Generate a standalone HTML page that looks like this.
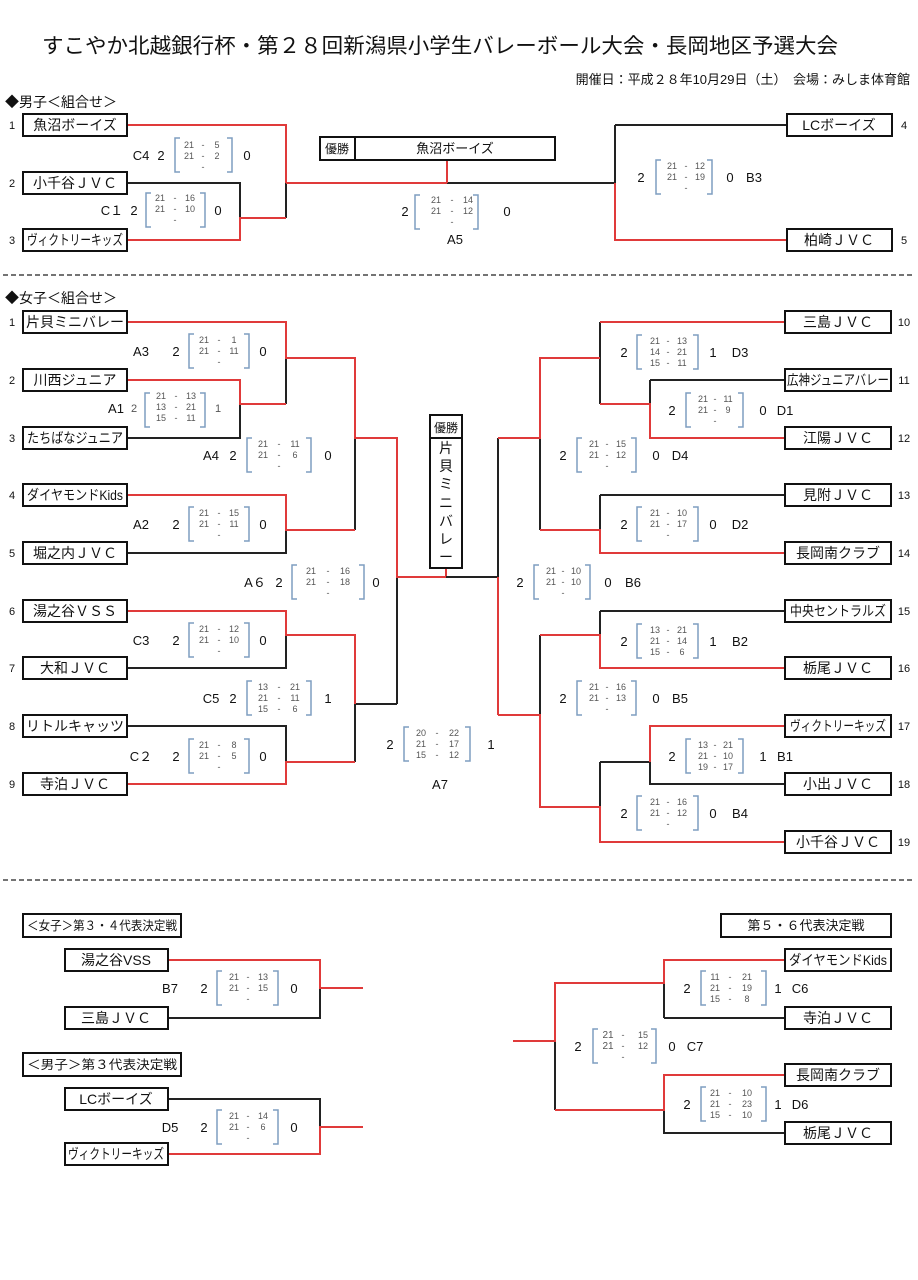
<!DOCTYPE html>
<html><head><meta charset="utf-8"><style>
html,body{margin:0;padding:0;background:#fff}
svg{display:block}
text{font-family:"Liberation Sans","Noto Sans CJK JP",sans-serif;fill:#111}
.t{font-size:14px;text-anchor:middle}
.n{font-size:11px;text-anchor:middle}
.l{font-size:13px;text-anchor:middle}
.s{font-size:9px;fill:#555;text-anchor:middle}
.bx{fill:#fff;stroke:#111;stroke-width:2}
.k{stroke:#222;stroke-width:2;fill:none}
.r{stroke:#e03a3a;stroke-width:2;fill:none}
.br{stroke:#7f9dc0;stroke-width:1.5;fill:none}
</style></head><body>
<svg width="918" height="1280" viewBox="0 0 918 1280" xmlns="http://www.w3.org/2000/svg">
<text x="440" y="53" style="font-size:21px;text-anchor:middle" textLength="796" lengthAdjust="spacingAndGlyphs">すこやか北越銀行杯・第２８回新潟県小学生バレーボール大会・長岡地区予選大会</text>
<text x="910" y="84" style="font-size:13px;text-anchor:end">開催日：平成２８年10月29日（土）　会場：みしま体育館</text>
<text x="5" y="107" style="font-size:14px">◆男子＜組合せ＞</text>
<text x="5" y="303" style="font-size:14px">◆女子＜組合せ＞</text>
<line x1="3" y1="275" x2="915" y2="275" stroke="#222" stroke-width="1.2" stroke-dasharray="5 3"/>
<line x1="3" y1="880" x2="915" y2="880" stroke="#222" stroke-width="1.2" stroke-dasharray="5 3"/>

<!-- MEN lines -->
<path class="k" d="M127 183H240V218M286 183V218M447 183H615M615 125H787M615 125V183"/>
<path class="r" d="M127 125H286V183M286 183H447M447 160V183M127 240H240V218H286M615 183V240H787"/>
<!-- WOMEN left -->
<path class="k" d="M127 438H240V404M286 358V404M127 553H286V530M355 438V530M127 668H286V635M127 726H286V762M355 704V762M355 704H397M397 577V704"/>
<path class="r" d="M127 322H286V358H355V438H397V577H446M446 568V577M127 380H240V404H286M127 495H286V530H355M127 611H286V635H355V704M127 784H286V762H355"/>
<!-- WOMEN right -->
<path class="k" d="M446 577H498M498 438V577M600 322V404M650 380V404M650 380H785M540 438V530M600 495V530M600 495H785M600 611V635M600 611H785M540 635V715M600 762V807M600 762H650M650 762V784H785"/>
<path class="r" d="M498 577V715M498 438H540V358H600M600 322H785M600 404H650V438H785M540 530H600V553H785M498 715H540V807H600V842H785M540 635H600V668H785M650 762V726H785"/>
<!-- bottom -->
<path class="k" d="M168 1018H320V988M168 1099H320V1127M664 1018V983M664 1110V1133H785M555 1041V1110"/>
<path class="r" d="M168 960H320V988H363M168 1154H320V1127H363M785 960H664V983H555V1041H513M555 1110H664V1075H785"/>
<path class="k" d="M664 1018H785"/>

<!-- MEN boxes -->
<rect class="bx" x="23" y="114" width="104" height="22"/><text class="t" x="75" y="130">魚沼ボーイズ</text>
<rect class="bx" x="23" y="172" width="104" height="22"/><text class="t" x="75" y="188">小千谷ＪＶＣ</text>
<rect class="bx" x="23" y="229" width="104" height="22"/><text class="t" x="75" y="245" textLength="96" lengthAdjust="spacingAndGlyphs">ヴィクトリーキッズ</text>
<text class="n" x="12" y="129">1</text><text class="n" x="12" y="187">2</text><text class="n" x="12" y="244">3</text>
<rect class="bx" x="787" y="114" width="105" height="22"/><text class="t" x="839" y="130">LCボーイズ</text>
<rect class="bx" x="787" y="229" width="105" height="22"/><text class="t" x="839" y="245">柏崎ＪＶＣ</text>
<text class="n" x="904" y="129">4</text><text class="n" x="904" y="244">5</text>
<rect class="bx" x="320" y="137" width="235" height="23"/><line x1="355" y1="137" x2="355" y2="160" stroke="#111" stroke-width="2"/>
<text x="337" y="153" style="font-size:12px;text-anchor:middle">優勝</text><text class="t" x="455" y="153" style="font-size:13px">魚沼ボーイズ</text>

<!-- WOMEN left boxes -->
<g>
<rect class="bx" x="23" y="311" width="104" height="22"/><text class="t" x="75" y="327">片貝ミニバレー</text>
<rect class="bx" x="23" y="369" width="104" height="22"/><text class="t" x="75" y="385">川西ジュニア</text>
<rect class="bx" x="23" y="427" width="104" height="22"/><text class="t" x="75" y="443" textLength="96" lengthAdjust="spacingAndGlyphs">たちばなジュニア</text>
<rect class="bx" x="23" y="484" width="104" height="22"/><text class="t" x="75" y="500" textLength="96" lengthAdjust="spacingAndGlyphs">ダイヤモンドKids</text>
<rect class="bx" x="23" y="542" width="104" height="22"/><text class="t" x="75" y="558">堀之内ＪＶＣ</text>
<rect class="bx" x="23" y="600" width="104" height="22"/><text class="t" x="75" y="616">湯之谷ＶＳＳ</text>
<rect class="bx" x="23" y="657" width="104" height="22"/><text class="t" x="75" y="673">大和ＪＶＣ</text>
<rect class="bx" x="23" y="715" width="104" height="22"/><text class="t" x="75" y="731">リトルキャッツ</text>
<rect class="bx" x="23" y="773" width="104" height="22"/><text class="t" x="75" y="789">寺泊ＪＶＣ</text>
<text class="n" x="12" y="326">1</text><text class="n" x="12" y="384">2</text><text class="n" x="12" y="442">3</text><text class="n" x="12" y="499">4</text><text class="n" x="12" y="557">5</text><text class="n" x="12" y="615">6</text><text class="n" x="12" y="672">7</text><text class="n" x="12" y="730">8</text><text class="n" x="12" y="788">9</text>
</g>
<!-- WOMEN right boxes -->
<g>
<rect class="bx" x="785" y="311" width="106" height="22"/><text class="t" x="838" y="327">三島ＪＶＣ</text>
<rect class="bx" x="785" y="369" width="106" height="22"/><text class="t" x="838" y="385" textLength="102" lengthAdjust="spacingAndGlyphs">広神ジュニアバレー</text>
<rect class="bx" x="785" y="427" width="106" height="22"/><text class="t" x="838" y="443">江陽ＪＶＣ</text>
<rect class="bx" x="785" y="484" width="106" height="22"/><text class="t" x="838" y="500">見附ＪＶＣ</text>
<rect class="bx" x="785" y="542" width="106" height="22"/><text class="t" x="838" y="558">長岡南クラブ</text>
<rect class="bx" x="785" y="600" width="106" height="22"/><text class="t" x="838" y="616" textLength="96" lengthAdjust="spacingAndGlyphs">中央セントラルズ</text>
<rect class="bx" x="785" y="657" width="106" height="22"/><text class="t" x="838" y="673">栃尾ＪＶＣ</text>
<rect class="bx" x="785" y="715" width="106" height="22"/><text class="t" x="838" y="731" textLength="96" lengthAdjust="spacingAndGlyphs">ヴィクトリーキッズ</text>
<rect class="bx" x="785" y="773" width="106" height="22"/><text class="t" x="838" y="789">小出ＪＶＣ</text>
<rect class="bx" x="785" y="831" width="106" height="22"/><text class="t" x="838" y="847">小千谷ＪＶＣ</text>
<text class="n" x="904" y="326">10</text><text class="n" x="904" y="384">11</text><text class="n" x="904" y="442">12</text><text class="n" x="904" y="499">13</text><text class="n" x="904" y="557">14</text><text class="n" x="904" y="615">15</text><text class="n" x="904" y="672">16</text><text class="n" x="904" y="730">17</text><text class="n" x="904" y="788">18</text><text class="n" x="904" y="846">19</text>
</g>
<!-- champion women -->
<rect class="bx" x="430" y="415" width="32" height="153"/><line x1="430" y1="438" x2="462" y2="438" stroke="#111" stroke-width="2"/>
<text x="446" y="432" style="font-size:12px;text-anchor:middle">優勝</text>
<text class="t" x="446" y="453">片</text><text class="t" x="446" y="471">貝</text><text class="t" x="446" y="489">ミ</text><text class="t" x="446" y="508">ニ</text><text class="t" x="446" y="526">バ</text><text class="t" x="446" y="544">レ</text><text class="t" x="446" y="562">ー</text>

<!-- bottom boxes -->
<rect class="bx" x="23" y="914" width="158" height="23"/><text x="27" y="930" style="font-size:12.5px" textLength="150" lengthAdjust="spacingAndGlyphs">＜女子＞第３・４代表決定戦</text>
<rect class="bx" x="23" y="1053" width="158" height="23"/><text x="27" y="1069" style="font-size:12.5px" textLength="150" lengthAdjust="spacingAndGlyphs">＜男子＞第３代表決定戦</text>
<rect class="bx" x="65" y="949" width="103" height="22"/><text class="t" x="116" y="965">湯之谷VSS</text>
<rect class="bx" x="65" y="1007" width="103" height="22"/><text class="t" x="116" y="1023">三島ＪＶＣ</text>
<rect class="bx" x="65" y="1088" width="103" height="22"/><text class="t" x="116" y="1104">LCボーイズ</text>
<rect class="bx" x="65" y="1143" width="103" height="22"/><text class="t" x="116" y="1159" textLength="96" lengthAdjust="spacingAndGlyphs">ヴィクトリーキッズ</text>
<rect class="bx" x="721" y="914" width="170" height="23"/><text x="806" y="930" style="font-size:13px;text-anchor:middle">第５・６代表決定戦</text>
<rect class="bx" x="785" y="949" width="106" height="22"/><text class="t" x="838" y="965" textLength="98" lengthAdjust="spacingAndGlyphs">ダイヤモンドKids</text>
<rect class="bx" x="785" y="1007" width="106" height="22"/><text class="t" x="838" y="1023">寺泊ＪＶＣ</text>
<rect class="bx" x="785" y="1064" width="106" height="22"/><text class="t" x="838" y="1080">長岡南クラブ</text>
<rect class="bx" x="785" y="1122" width="106" height="22"/><text class="t" x="838" y="1138">栃尾ＪＶＣ</text>

<!-- score blocks -->
<g id="scores">
<text class="l" x="141" y="160">C4</text><text class="l" x="161" y="160">2</text><text class="l" x="247" y="160">0</text>
<path class="br" d="M180 138H175V172H180M227 138H232V172H227"/>
<text class="s" x="189" y="148">21</text><text class="s" x="203" y="148">-</text><text class="s" x="217" y="148">5</text>
<text class="s" x="189" y="159">21</text><text class="s" x="203" y="159">-</text><text class="s" x="217" y="159">2</text>
<text class="s" x="203" y="170">-</text>
<text class="l" x="112" y="215">C１</text><text class="l" x="134" y="215">2</text><text class="l" x="218" y="215">0</text>
<path class="br" d="M151 193H146V227H151M200 193H205V227H200"/>
<text class="s" x="160" y="201">21</text><text class="s" x="175" y="201">-</text><text class="s" x="190" y="201">16</text>
<text class="s" x="160" y="212">21</text><text class="s" x="175" y="212">-</text><text class="s" x="190" y="212">10</text>
<text class="s" x="175" y="223">-</text>
<text class="l" x="405" y="216">2</text><text class="l" x="507" y="216">0</text><text class="l" x="455" y="244">A5</text>
<path class="br" d="M420 195H415V229H420M473 195H478V229H473"/>
<text class="s" x="436" y="203">21</text><text class="s" x="452" y="203">-</text><text class="s" x="468" y="203">14</text>
<text class="s" x="436" y="214">21</text><text class="s" x="452" y="214">-</text><text class="s" x="468" y="214">12</text>
<text class="s" x="452" y="225">-</text>
<text class="l" x="641" y="182">2</text><text class="l" x="730" y="182">0</text><text class="l" x="754" y="182">B3</text>
<path class="br" d="M661 160H656V194H661M707 160H712V194H707"/>
<text class="s" x="672" y="169">21</text><text class="s" x="686" y="169">-</text><text class="s" x="700" y="169">12</text>
<text class="s" x="672" y="180">21</text><text class="s" x="686" y="180">-</text><text class="s" x="700" y="180">19</text>
<text class="s" x="686" y="191">-</text>

<text class="l" x="141" y="356">A3</text><text class="l" x="176" y="356">2</text><text class="l" x="263" y="356">0</text>
<path class="br" d="M194 334H189V368H194M244 334H249V368H244"/>
<text class="s" x="204" y="343">21</text><text class="s" x="219" y="343">-</text><text class="s" x="234" y="343">1</text>
<text class="s" x="204" y="354">21</text><text class="s" x="219" y="354">-</text><text class="s" x="234" y="354">11</text>
<text class="s" x="219" y="365">-</text>
<text class="l" x="116" y="413">A1</text><text class="s" x="134" y="412" style="font-size:11px">2</text><text class="s" x="218" y="412" style="font-size:11px">1</text>
<path class="br" d="M150 393H145V427H150M200 393H205V427H200"/>
<text class="s" x="161" y="399">21</text><text class="s" x="176" y="399">-</text><text class="s" x="191" y="399">13</text>
<text class="s" x="161" y="410">13</text><text class="s" x="176" y="410">-</text><text class="s" x="191" y="410">21</text>
<text class="s" x="161" y="421">15</text><text class="s" x="176" y="421">-</text><text class="s" x="191" y="421">11</text>
<text class="l" x="211" y="460">A4</text><text class="l" x="233" y="460">2</text><text class="l" x="328" y="460">0</text>
<path class="br" d="M252 438H247V472H252M306 438H311V472H306"/>
<text class="s" x="263" y="447">21</text><text class="s" x="279" y="447">-</text><text class="s" x="295" y="447">11</text>
<text class="s" x="263" y="458">21</text><text class="s" x="279" y="458">-</text><text class="s" x="295" y="458">6</text>
<text class="s" x="279" y="469">-</text>
<text class="l" x="141" y="529">A2</text><text class="l" x="176" y="529">2</text><text class="l" x="263" y="529">0</text>
<path class="br" d="M194 507H189V541H194M244 507H249V541H244"/>
<text class="s" x="204" y="516">21</text><text class="s" x="219" y="516">-</text><text class="s" x="234" y="516">15</text>
<text class="s" x="204" y="527">21</text><text class="s" x="219" y="527">-</text><text class="s" x="234" y="527">11</text>
<text class="s" x="219" y="538">-</text>
<text class="l" x="255" y="587">A６</text><text class="l" x="279" y="587">2</text><text class="l" x="376" y="587">0</text>
<path class="br" d="M297 565H292V599H297M359 565H364V599H359"/>
<text class="s" x="311" y="574">21</text><text class="s" x="328" y="574">-</text><text class="s" x="345" y="574">16</text>
<text class="s" x="311" y="585">21</text><text class="s" x="328" y="585">-</text><text class="s" x="345" y="585">18</text>
<text class="s" x="328" y="596">-</text>
<text class="l" x="141" y="645">C3</text><text class="l" x="176" y="645">2</text><text class="l" x="263" y="645">0</text>
<path class="br" d="M194 623H189V657H194M244 623H249V657H244"/>
<text class="s" x="204" y="632">21</text><text class="s" x="219" y="632">-</text><text class="s" x="234" y="632">12</text>
<text class="s" x="204" y="643">21</text><text class="s" x="219" y="643">-</text><text class="s" x="234" y="643">10</text>
<text class="s" x="219" y="654">-</text>
<text class="l" x="211" y="703">C5</text><text class="l" x="233" y="703">2</text><text class="l" x="328" y="703">1</text>
<path class="br" d="M252 681H247V715H252M306 681H311V715H306"/>
<text class="s" x="263" y="690">13</text><text class="s" x="279" y="690">-</text><text class="s" x="295" y="690">21</text>
<text class="s" x="263" y="701">21</text><text class="s" x="279" y="701">-</text><text class="s" x="295" y="701">11</text>
<text class="s" x="263" y="712">15</text><text class="s" x="279" y="712">-</text><text class="s" x="295" y="712">6</text>
<text class="l" x="141" y="761">C２</text><text class="l" x="176" y="761">2</text><text class="l" x="263" y="761">0</text>
<path class="br" d="M194 739H189V773H194M244 739H249V773H244"/>
<text class="s" x="204" y="748">21</text><text class="s" x="219" y="748">-</text><text class="s" x="234" y="748">8</text>
<text class="s" x="204" y="759">21</text><text class="s" x="219" y="759">-</text><text class="s" x="234" y="759">5</text>
<text class="s" x="219" y="770">-</text>
<text class="l" x="390" y="749">2</text><text class="l" x="491" y="749">1</text><text class="l" x="440" y="789">A7</text>
<path class="br" d="M409 727H404V761H409M465 727H470V761H465"/>
<text class="s" x="421" y="736">20</text><text class="s" x="437" y="736">-</text><text class="s" x="454" y="736">22</text>
<text class="s" x="421" y="747">21</text><text class="s" x="437" y="747">-</text><text class="s" x="454" y="747">17</text>
<text class="s" x="421" y="758">15</text><text class="s" x="437" y="758">-</text><text class="s" x="454" y="758">12</text>

<text class="l" x="624" y="357">2</text><text class="l" x="713" y="357">1</text><text class="l" x="740" y="357">D3</text>
<path class="br" d="M642 335H637V369H642M693 335H698V369H693"/>
<text class="s" x="655" y="344">21</text><text class="s" x="668" y="344">-</text><text class="s" x="682" y="344">13</text>
<text class="s" x="655" y="355">14</text><text class="s" x="668" y="355">-</text><text class="s" x="682" y="355">21</text>
<text class="s" x="655" y="366">15</text><text class="s" x="668" y="366">-</text><text class="s" x="682" y="366">11</text>
<text class="l" x="672" y="415">2</text><text class="l" x="763" y="415">0</text><text class="l" x="785" y="415">D1</text>
<path class="br" d="M691 393H686V427H691M738 393H743V427H738"/>
<text class="s" x="703" y="402">21</text><text class="s" x="715" y="402">-</text><text class="s" x="728" y="402">11</text>
<text class="s" x="703" y="413">21</text><text class="s" x="715" y="413">-</text><text class="s" x="728" y="413">9</text>
<text class="s" x="715" y="424">-</text>
<text class="l" x="563" y="460">2</text><text class="l" x="656" y="460">0</text><text class="l" x="680" y="460">D4</text>
<path class="br" d="M582 438H577V472H582M631 438H636V472H631"/>
<text class="s" x="594" y="447">21</text><text class="s" x="607" y="447">-</text><text class="s" x="621" y="447">15</text>
<text class="s" x="594" y="458">21</text><text class="s" x="607" y="458">-</text><text class="s" x="621" y="458">12</text>
<text class="s" x="607" y="469">-</text>
<text class="l" x="624" y="529">2</text><text class="l" x="713" y="529">0</text><text class="l" x="740" y="529">D2</text>
<path class="br" d="M642 507H637V541H642M693 507H698V541H693"/>
<text class="s" x="655" y="516">21</text><text class="s" x="668" y="516">-</text><text class="s" x="682" y="516">10</text>
<text class="s" x="655" y="527">21</text><text class="s" x="668" y="527">-</text><text class="s" x="682" y="527">17</text>
<text class="s" x="668" y="538">-</text>
<text class="l" x="520" y="587">2</text><text class="l" x="608" y="587">0</text><text class="l" x="633" y="587">B6</text>
<path class="br" d="M539 565H534V599H539M585 565H590V599H585"/>
<text class="s" x="551" y="574">21</text><text class="s" x="563" y="574">-</text><text class="s" x="576" y="574">10</text>
<text class="s" x="551" y="585">21</text><text class="s" x="563" y="585">-</text><text class="s" x="576" y="585">10</text>
<text class="s" x="563" y="596">-</text>
<text class="l" x="624" y="646">2</text><text class="l" x="713" y="646">1</text><text class="l" x="740" y="646">B2</text>
<path class="br" d="M642 624H637V658H642M693 624H698V658H693"/>
<text class="s" x="655" y="633">13</text><text class="s" x="668" y="633">-</text><text class="s" x="682" y="633">21</text>
<text class="s" x="655" y="644">21</text><text class="s" x="668" y="644">-</text><text class="s" x="682" y="644">14</text>
<text class="s" x="655" y="655">15</text><text class="s" x="668" y="655">-</text><text class="s" x="682" y="655">6</text>
<text class="l" x="563" y="703">2</text><text class="l" x="656" y="703">0</text><text class="l" x="680" y="703">B5</text>
<path class="br" d="M582 681H577V715H582M631 681H636V715H631"/>
<text class="s" x="594" y="690">21</text><text class="s" x="607" y="690">-</text><text class="s" x="621" y="690">16</text>
<text class="s" x="594" y="701">21</text><text class="s" x="607" y="701">-</text><text class="s" x="621" y="701">13</text>
<text class="s" x="607" y="712">-</text>
<text class="l" x="672" y="761">2</text><text class="l" x="763" y="761">1</text><text class="l" x="785" y="761">B1</text>
<path class="br" d="M691 739H686V773H691M738 739H743V773H738"/>
<text class="s" x="703" y="748">13</text><text class="s" x="715" y="748">-</text><text class="s" x="728" y="748">21</text>
<text class="s" x="703" y="759">21</text><text class="s" x="715" y="759">-</text><text class="s" x="728" y="759">10</text>
<text class="s" x="703" y="770">19</text><text class="s" x="715" y="770">-</text><text class="s" x="728" y="770">17</text>
<text class="l" x="624" y="818">2</text><text class="l" x="713" y="818">0</text><text class="l" x="740" y="818">B4</text>
<path class="br" d="M642 796H637V830H642M693 796H698V830H693"/>
<text class="s" x="655" y="805">21</text><text class="s" x="668" y="805">-</text><text class="s" x="682" y="805">16</text>
<text class="s" x="655" y="816">21</text><text class="s" x="668" y="816">-</text><text class="s" x="682" y="816">12</text>
<text class="s" x="668" y="827">-</text>

<text class="l" x="170" y="993">B7</text><text class="l" x="204" y="993">2</text><text class="l" x="294" y="993">0</text>
<path class="br" d="M222 971H217V1005H222M273 971H278V1005H273"/>
<text class="s" x="234" y="980">21</text><text class="s" x="248" y="980">-</text><text class="s" x="263" y="980">13</text>
<text class="s" x="234" y="991">21</text><text class="s" x="248" y="991">-</text><text class="s" x="263" y="991">15</text>
<text class="s" x="248" y="1002">-</text>
<text class="l" x="170" y="1132">D5</text><text class="l" x="204" y="1132">2</text><text class="l" x="294" y="1132">0</text>
<path class="br" d="M222 1110H217V1144H222M273 1110H278V1144H273"/>
<text class="s" x="234" y="1119">21</text><text class="s" x="248" y="1119">-</text><text class="s" x="263" y="1119">14</text>
<text class="s" x="234" y="1130">21</text><text class="s" x="248" y="1130">-</text><text class="s" x="263" y="1130">6</text>
<text class="s" x="248" y="1141">-</text>
<text class="l" x="687" y="993">2</text><text class="l" x="778" y="993">1</text><text class="l" x="800" y="993">C6</text>
<path class="br" d="M706 971H701V1005H706M761 971H766V1005H761"/>
<text class="s" x="715" y="980">11</text><text class="s" x="730" y="980">-</text><text class="s" x="747" y="980">21</text>
<text class="s" x="715" y="991">21</text><text class="s" x="730" y="991">-</text><text class="s" x="747" y="991">19</text>
<text class="s" x="715" y="1002">15</text><text class="s" x="730" y="1002">-</text><text class="s" x="747" y="1002">8</text>
<text class="l" x="578" y="1051">2</text><text class="l" x="672" y="1051">0</text><text class="l" x="695" y="1051">C7</text>
<path class="br" d="M598 1029H593V1063H598M651 1029H656V1063H651"/>
<text class="s" x="608" y="1038" style="font-size:10px">21</text><text class="s" x="623" y="1038">-</text><text class="s" x="643" y="1038">15</text>
<text class="s" x="608" y="1049" style="font-size:10px">21</text><text class="s" x="623" y="1049">-</text><text class="s" x="643" y="1049">12</text>
<text class="s" x="623" y="1060">-</text>
<text class="l" x="687" y="1109">2</text><text class="l" x="778" y="1109">1</text><text class="l" x="800" y="1109">D6</text>
<path class="br" d="M706 1087H701V1121H706M761 1087H766V1121H761"/>
<text class="s" x="715" y="1096">21</text><text class="s" x="730" y="1096">-</text><text class="s" x="747" y="1096">10</text>
<text class="s" x="715" y="1107">21</text><text class="s" x="730" y="1107">-</text><text class="s" x="747" y="1107">23</text>
<text class="s" x="715" y="1118">15</text><text class="s" x="730" y="1118">-</text><text class="s" x="747" y="1118">10</text>
</g>
</svg>
</body></html>
